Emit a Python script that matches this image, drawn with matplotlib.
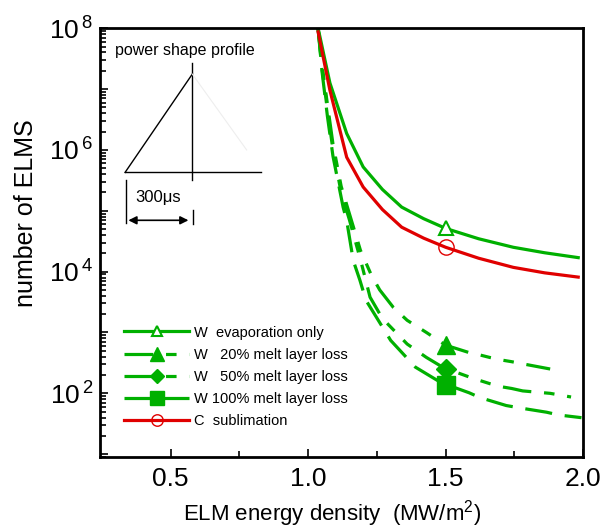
import numpy as np
import matplotlib.pyplot as plt
from matplotlib.ticker import FixedLocator, FuncFormatter, LogLocator, NullFormatter

plt.rcParams['font.family'] = ['Liberation Sans', 'DejaVu Sans']
plt.rcParams['mathtext.fontset'] = 'custom'
plt.rcParams['mathtext.rm'] = 'Liberation Sans'
plt.rcParams['mathtext.it'] = 'Liberation Sans:italic'

# ELM energy density (MW/m2) and log10(number of ELMs)
x_evap = [1.036, 1.079, 1.14, 1.20, 1.27, 1.34, 1.42, 1.50, 1.62, 1.746, 1.86, 1.982]
lg_evap = [8.0, 7.10, 6.27, 5.72, 5.35, 5.06, 4.87, 4.71, 4.54, 4.40, 4.31, 4.23]

x_c = [1.036, 1.079, 1.14, 1.20, 1.27, 1.34, 1.42, 1.50, 1.62, 1.746, 1.86, 1.982]
lg_c = [7.94, 6.98, 5.88, 5.39, 5.02, 4.73, 4.55, 4.40, 4.22, 4.07, 3.98, 3.91]

x_20 = [1.036, 1.05, 1.07, 1.09, 1.12, 1.15, 1.19, 1.23, 1.26, 1.31, 1.36, 1.43, 1.50,
        1.536, 1.585, 1.625, 1.66, 1.70, 1.74, 1.78, 1.88]
lg_20 = [8.0, 7.4, 6.75, 6.1, 5.4, 4.95, 4.35, 3.94, 3.70, 3.41, 3.20, 3.00, 2.79,
         2.74, 2.67, 2.63, 2.59, 2.55, 2.52, 2.485, 2.40]

x_50 = [1.036, 1.05, 1.07, 1.09, 1.12, 1.15, 1.19, 1.225, 1.27, 1.36, 1.43, 1.50,
        1.536, 1.585, 1.625, 1.66, 1.70, 1.74, 1.78, 1.88, 1.956]
lg_50 = [8.0, 7.35, 6.65, 6.0, 5.3, 4.85, 4.2, 3.58, 3.23, 2.81, 2.59, 2.40,
         2.35, 2.27, 2.21, 2.16, 2.11, 2.08, 2.04, 2.00, 1.94]

x_100 = [1.036, 1.05, 1.07, 1.09, 1.127, 1.14, 1.164, 1.188, 1.21, 1.30, 1.39, 1.50,
         1.536, 1.585, 1.625, 1.72, 1.77, 1.867, 1.91, 1.994]
lg_100 = [8.0, 7.3, 6.55, 5.9, 5.06, 4.84, 4.18, 3.86, 3.53, 2.87, 2.43, 2.13,
          2.09, 2.01, 1.93, 1.80, 1.76, 1.69, 1.645, 1.60]

labels = ['W  evaporation only', 'W   20% melt layer loss', 'W   50% melt layer loss',
          'W 100% melt layer loss', 'C  sublimation']
x_mark = 1.5

green = '#00b000'
red = '#e00000'

fig = plt.figure(figsize=(6.1, 5.32), dpi=100)
ax = fig.add_axes([0.164, 0.141, 0.792, 0.806])

def mk(xs):
    return [xs.index(x_mark)]

dashdot = (0, (9, 4, 3.3, 4, 3.3, 4))
longdash = (0, (8.5, 4))

ax.plot(x_evap, 10 ** np.array(lg_evap), color=green, lw=2.3, marker='^', ms=10,
        mfc='white', mec=green, mew=1.5, markevery=mk(x_evap), label=labels[0])
ax.plot(x_20, 10 ** np.array(lg_20), color=green, lw=2.3, ls=dashdot, marker='^', ms=13,
        mfc=green, mec=green, markevery=mk(x_20), label=labels[1])
ax.plot(x_50, 10 ** np.array(lg_50), color=green, lw=2.3, ls=dashdot, marker='D', ms=10,
        mfc=green, mec=green, markevery=mk(x_50), label=labels[2])
ax.plot(x_100, 10 ** np.array(lg_100), color=green, lw=2.3, ls=longdash, marker='s', ms=13,
        mfc=green, mec=green, markevery=mk(x_100), label=labels[3])
ax.plot(x_c, 10 ** np.array(lg_c), color=red, lw=2.3, marker='o', ms=11,
        mfc='none', mec=red, mew=1.0, markevery=mk(x_c), label=labels[4])

ax.set_yscale('log')
ax.set_xlim(0.243, 2.0)
ax.set_ylim(9, 1e8)

ax.xaxis.set_major_locator(FixedLocator([0.5, 1.0, 1.5, 2.0]))
ax.xaxis.set_minor_locator(FixedLocator([0.75, 1.25, 1.75]))
ax.xaxis.set_major_formatter(FuncFormatter(lambda v, p: '%.1f' % v))

ax.yaxis.set_major_locator(FixedLocator([10.0 ** k for k in range(1, 9)]))
ax.yaxis.set_minor_locator(LogLocator(base=10, subs=np.arange(2, 10), numticks=20))
ax.yaxis.set_minor_formatter(NullFormatter())
def ylab(v, p):
    k = int(round(np.log10(v)))
    return r'$10^{\,%d}$' % k if k % 2 == 0 else ''
ax.yaxis.set_major_formatter(FuncFormatter(ylab))

ax.tick_params(which='both', direction='in', width=1.2, labelsize=19)
ax.tick_params(which='major', length=6)
ax.tick_params(which='minor', length=4)
ax.tick_params(axis='x', pad=7)
ax.tick_params(axis='y', pad=5)
for s in ax.spines.values():
    s.set_linewidth(2)

ax.set_xlabel('ELM energy density  (MW/m$^2$)', fontsize=16)
ax.set_ylabel('number of ELMS', fontsize=18)
ax.xaxis.set_label_coords(0.48, -0.097)
ax.yaxis.set_label_coords(-0.128, 0.568)

ax.legend(loc='lower left', bbox_to_anchor=(0.035, 0.05), frameon=False, fontsize=10.5,
          handlelength=4.45, handletextpad=0.3, labelspacing=0.56, borderpad=0,
          markerscale=0.75)

# inset: power shape profile sketch
T = ax.transAxes
kw = dict(color='black', lw=1.0, transform=T, clip_on=False)
ax.plot([0.0518, 0.333], [0.6636, 0.6636], **kw)
ax.plot([0.0518, 0.191], [0.6636, 0.893], **kw)
ax.plot([0.191, 0.191], [0.918, 0.646], **kw)
ax.plot([0.0532, 0.0532], [0.646, 0.545], **kw)
ax.plot([0.1917, 0.1917], [0.576, 0.543], **kw)
ax.plot([0.191, 0.3035], [0.893, 0.716], color='#eeeeee', lw=0.8, transform=T)
ax.annotate('', xy=(0.183, 0.552), xytext=(0.0586, 0.552), xycoords=T,
            arrowprops=dict(arrowstyle='<|-|>', color='black', lw=1.2, mutation_scale=12,
                            shrinkA=0, shrinkB=0))
ax.text(0.072, 0.606, '300μs', transform=T, fontsize=12, va='center', ha='left')
ax.text(0.031, 0.949, 'power shape profile', transform=T, fontsize=11.5, va='center', ha='left')

fig.savefig('out.png', dpi=100)
